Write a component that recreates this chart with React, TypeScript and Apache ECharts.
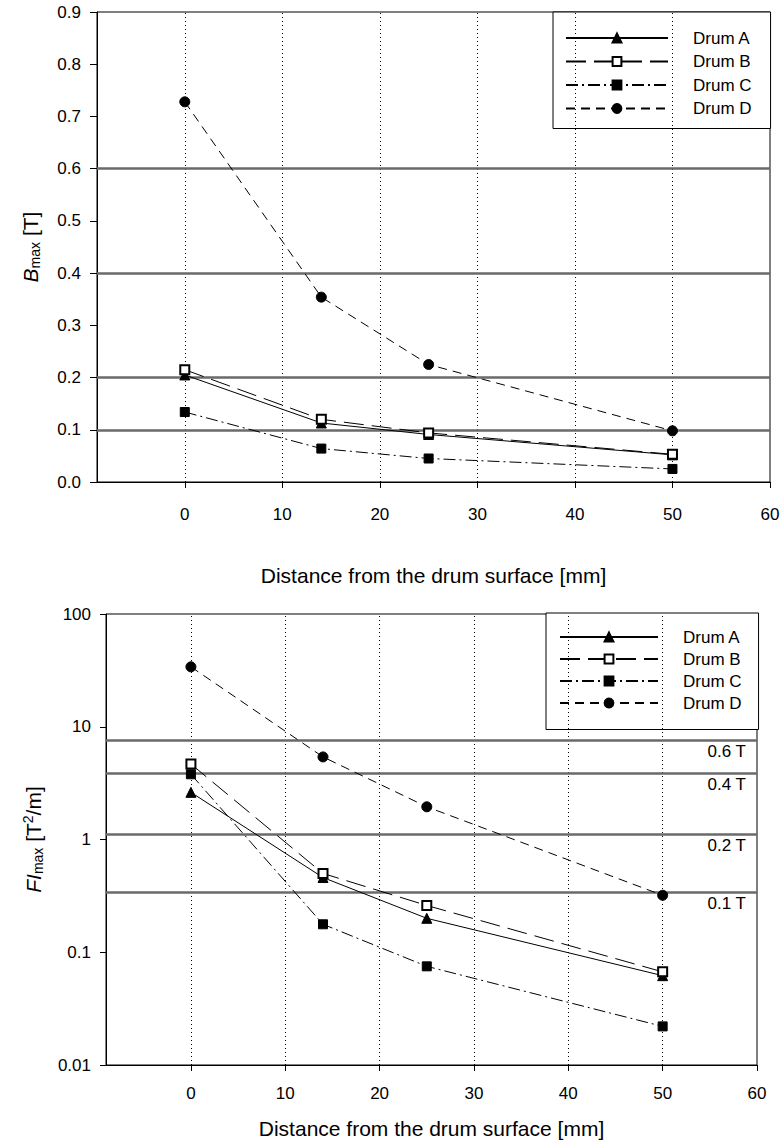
import React, { useEffect, useRef } from "react";
import * as echarts from "echarts";

const FONT = "Liberation Sans, Arial, sans-serif";

const drumNames = ["Drum A", "Drum B", "Drum C", "Drum D"];
const distances = [0, 14, 25, 50];

// B_max [T]
const bmaxA = [0.205, 0.113, 0.091, 0.052];
const bmaxB = [0.215, 0.12, 0.094, 0.053];
const bmaxC = [0.134, 0.064, 0.045, 0.025];
const bmaxD = [0.728, 0.354, 0.225, 0.098];

// FI_max [T^2/m]
const fiA = [2.62, 0.46, 0.2, 0.062];
const fiB = [4.67, 0.5, 0.26, 0.067];
const fiC = [3.79, 0.177, 0.075, 0.022];
const fiD = [34, 5.4, 1.95, 0.32];

const xTicks = [0, 10, 20, 30, 40, 50, 60];
const xGridLines = [0, 10, 20, 30, 40, 50];
const bRefLines = [0.1, 0.2, 0.4, 0.6];
const fiRefLines = [7.6, 3.85, 1.12, 0.34];
const fiRefLabels = ["0.6 T", "0.4 T", "0.2 T", "0.1 T"];

const styleOf: Record<string, any> = {
  "Drum A": { symbol: "triangle", size: 10, dash: "solid" },
  "Drum B": { symbol: "emptyRect", size: 9, dash: [20, 8] },
  "Drum C": { symbol: "rect", size: 9, dash: [12, 4, 2, 4] },
  "Drum D": { symbol: "circle", size: 10, dash: [9, 6] },
};

function makeSeries(name: string, vals: number[], gi: number) {
  const s = styleOf[name];
  return {
    type: "line",
    name,
    xAxisIndex: gi,
    yAxisIndex: gi,
    z: 5,
    data: distances.map((x, i) => [x, vals[i]]),
    symbol: s.symbol,
    symbolSize: s.size,
    showAllSymbol: true,
    itemStyle: { color: "#000", borderColor: "#000", borderWidth: 1 },
    lineStyle: { color: "#000", width: 1, type: s.dash },
    emphasis: { disabled: true },
  };
}

export default function App() {
  const ref = useRef<HTMLDivElement>(null);
  useEffect(() => {
    if (!ref.current) return;
    const chart = echarts.init(ref.current, undefined, { renderer: "svg" });
    const axisText = { color: "#000", fontSize: 17, fontFamily: FONT };
    const xAxisBase = (gi: number, margin: number, gap: number) => ({
      gridIndex: gi,
      type: "value",
      min: -9,
      max: 60,
      axisLine: { onZero: false, lineStyle: { color: "#000", width: 1 } },
      axisTick: { customValues: xTicks, length: 6, lineStyle: { color: "#000" } },
      axisLabel: { ...axisText, customValues: xTicks, margin },
      splitLine: { show: false },
      name: "Distance from the drum surface [mm]",
      nameLocation: "middle",
      nameGap: gap,
      nameTextStyle: { color: "#000", fontSize: 21, fontFamily: FONT },
    });
    const vGrid = (gi: number) => ({
      type: "line",
      xAxisIndex: gi,
      yAxisIndex: gi,
      data: [],
      z: 1,
      silent: true,
      markLine: {
        silent: true,
        symbol: "none",
        animation: false,
        label: { show: false },
        lineStyle: { color: "#000", type: [1, 3], width: 1 },
        data: xGridLines.map((v) => ({ xAxis: v })),
      },
    });
    const nameRich = {
      i: { fontStyle: "italic", fontSize: 21, fontFamily: FONT, color: "#000" },
      s: { fontSize: 14, fontFamily: FONT, color: "#000", padding: [10, 0, 0, 0] },
      p: { fontSize: 14, fontFamily: FONT, color: "#000", padding: [0, 0, 10, 0] },
      n: { fontSize: 21, fontFamily: FONT, color: "#000" },
    };
    const option: any = {
      animation: false,
      grid: [
        { left: 97, right: 14, top: 12, height: 470, show: true, borderColor: "#000", borderWidth: 1 },
        { left: 106, right: 27, top: 614, height: 451, show: true, borderColor: "#000", borderWidth: 1 },
      ],
      xAxis: [xAxisBase(0, 24, 83), xAxisBase(1, 20, 53)],
      yAxis: [
        {
          gridIndex: 0,
          type: "value",
          min: 0,
          max: 0.9,
          interval: 0.1,
          axisLine: { show: true, onZero: false, lineStyle: { color: "#000", width: 1 } },
          axisTick: { show: true, length: 7, lineStyle: { color: "#000" } },
          axisLabel: { ...axisText, margin: 16, formatter: (v: number) => v.toFixed(1) },
          splitLine: { show: false },
          name: "{i|B}{s|max}{n| [T]}",
          nameLocation: "middle",
          nameRotate: 90,
          nameGap: 55,
          nameTextStyle: { rich: nameRich },
        },
        {
          gridIndex: 1,
          type: "log",
          logBase: 10,
          min: 0.01,
          max: 100,
          axisLine: { show: true, onZero: false, lineStyle: { color: "#000", width: 1 } },
          axisTick: { show: true, length: 6, lineStyle: { color: "#000" } },
          axisLabel: { ...axisText, margin: 15, formatter: (v: number) => String(parseFloat(v.toPrecision(2))) },
          splitLine: { show: false },
          minorTick: { show: false },
          name: "{i|FI}{s|max}{n| [T}{p|2}{n|/m]}",
          nameLocation: "middle",
          nameRotate: 90,
          nameGap: 61,
          nameTextStyle: { rich: nameRich },
        },
      ],
      legend: [
        {
          orient: "vertical",
          left: 553,
          top: 12,
          data: drumNames,
          itemWidth: 102,
          itemHeight: 11,
          itemGap: 6.5,
          padding: [17.5, 19, 11.5, 12],
          borderColor: "#000",
          borderWidth: 1,
          backgroundColor: "#fff",
          selectedMode: false,
          textStyle: { color: "#000", fontSize: 17, fontFamily: FONT, lineHeight: 17, padding: [0, 0, 0, 20] },
        },
        {
          orient: "vertical",
          left: 546,
          top: 613,
          data: drumNames,
          itemWidth: 98,
          itemHeight: 11,
          itemGap: 5,
          padding: [15.5, 17, 18, 13],
          borderColor: "#000",
          borderWidth: 1,
          backgroundColor: "#fff",
          selectedMode: false,
          textStyle: { color: "#000", fontSize: 17, fontFamily: FONT, lineHeight: 17, padding: [0, 0, 0, 20] },
        },
      ],
      series: [
        vGrid(0),
        vGrid(1),
        {
          type: "line",
          xAxisIndex: 0,
          yAxisIndex: 0,
          data: [],
          z: 2,
          silent: true,
          markLine: {
            silent: true,
            symbol: "none",
            label: { show: false },
            lineStyle: { color: "#6a6a6a", type: "solid", width: 2.5 },
            data: bRefLines.map((v) => ({ yAxis: v })),
          },
        },
        {
          type: "line",
          xAxisIndex: 1,
          yAxisIndex: 1,
          data: [],
          z: 2,
          silent: true,
          markLine: {
            silent: true,
            symbol: "none",
            lineStyle: { color: "#6a6a6a", type: "solid", width: 2.5 },
            label: {
              show: true,
              position: "insideEndBottom",
              color: "#000",
              fontSize: 17,
              fontFamily: FONT,
              distance: [11, 3],
            },
            data: fiRefLines.map((v, i) => ({ yAxis: v, label: { formatter: fiRefLabels[i] } })),
          },
        },
        makeSeries("Drum A", bmaxA, 0),
        makeSeries("Drum B", bmaxB, 0),
        makeSeries("Drum C", bmaxC, 0),
        makeSeries("Drum D", bmaxD, 0),
        makeSeries("Drum A", fiA, 1),
        makeSeries("Drum B", fiB, 1),
        makeSeries("Drum C", fiC, 1),
        makeSeries("Drum D", fiD, 1),
      ],
    };
    chart.setOption(option);
    return () => chart.dispose();
  }, []);
  return (
    <div
      ref={ref}
      style={{ position: "absolute", left: 0, top: 0, width: "784px", height: "1147px", background: "#fff" }}
    />
  );
}
